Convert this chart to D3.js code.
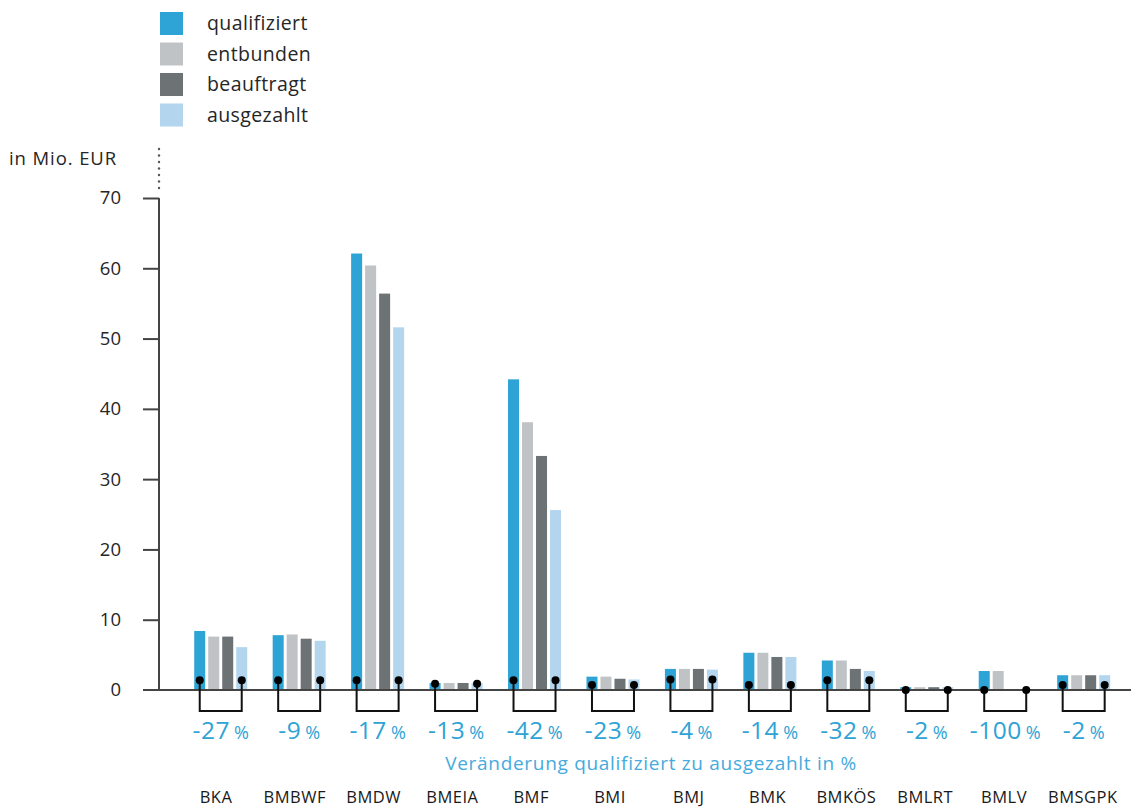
<!DOCTYPE html>
<html>
<head>
<meta charset="utf-8">
<script src="https://cdn.jsdelivr.net/npm/d3@7"></script>
<style>
  html, body { margin: 0; padding: 0; background: #fff; }
  svg { display: block; font-family: "Open Sans", "Segoe UI", sans-serif; }
</style>
</head>
<body>
<svg id="chart" width="1131" height="807"></svg>
<script>
const categories = ["BKA","BMBWF","BMDW","BMEIA","BMF","BMI","BMJ","BMK","BMKÖS","BMLRT","BMLV","BMSGPK"];
const seriesNames = ["qualifiziert","entbunden","beauftragt","ausgezahlt"];
const seriesColors = ["#2ea3d5","#c0c3c6","#6d7275","#b3d6ee"];
const qualifiziert = [8.4, 7.8, 62.1, 1.0, 44.2, 1.9, 3.0, 5.3, 4.2, 0.4, 2.7, 2.1];
const entbunden    = [7.6, 7.9, 60.4, 1.0, 38.1, 1.9, 3.0, 5.3, 4.2, 0.4, 2.7, 2.1];
const beauftragt   = [7.6, 7.3, 56.4, 1.0, 33.3, 1.6, 3.0, 4.7, 3.0, 0.4, 0.0, 2.1];
const ausgezahlt   = [6.1, 7.0, 51.6, 1.0, 25.6, 1.5, 2.9, 4.7, 2.7, 0.4, 0.0, 2.1];
const changeLabels = ["-27","-9","-17","-13","-42","-23","-4","-14","-32","-2","-100","-2"];
const dotLevels    = [1.4, 1.4, 1.4, 0.9, 1.4, 0.7, 1.5, 0.7, 1.4, 0.0, 0.0, 0.7];
const yTicks = [0,10,20,30,40,50,60,70];

const seriesValues = [qualifiziert, entbunden, beauftragt, ausgezahlt];
const svg = d3.select("#chart");

const y = d3.scaleLinear().domain([0, 70]).range([690, 198]);
const x0 = d3.scaleBand().domain(categories).range([181.5, 1122.9]).padding(0);
const xl = d3.scaleBand().domain(categories).range([176.6, 1122.2]).padding(0);
const x1 = d3.scaleBand().domain(seriesNames).range([-26.5, 26.5]).paddingInner(0.214);
const gc = c => x0(c) + x0.bandwidth() / 2;

// Legend
const legend = svg.append("g");
seriesNames.forEach((s, i) => {
  const ly = 12 + i * 30.5;
  legend.append("rect").attr("x", 160).attr("y", ly).attr("width", 23).attr("height", 23).attr("fill", seriesColors[i]);
  legend.append("text").attr("x", 207).attr("y", ly + 18).attr("font-size", 19.5)
    .attr("letter-spacing", 0.4).attr("fill", "#262626").text(s);
});

// Unit label
svg.append("text").attr("x", 9).attr("y", 165).attr("font-size", 18.5).attr("letter-spacing", 0.9)
  .attr("fill", "#262626").text("in Mio. EUR");
// dotted extension
[149, 155.5, 162, 168.5, 175, 181.5, 188].forEach(dy => {
  svg.append("circle").attr("cx", 159).attr("cy", dy).attr("r", 1.2).attr("fill", "#555");
});

// Y axis
const yAxis = d3.axisLeft(y).tickValues(yTicks).tickSize(16).tickPadding(22).tickFormat(d3.format("d"));
const yg = svg.append("g").attr("transform", "translate(159,0)").call(yAxis);
yg.select(".domain").attr("stroke", "#444").attr("stroke-width", 2).attr("d", "M0,198V690");
yg.selectAll(".tick line").attr("stroke", "#444").attr("stroke-width", 2);
yg.selectAll(".tick text").attr("font-size", 18.5).attr("fill", "#262626").attr("font-family", "Open Sans, sans-serif");
yg.selectAll(".tick").filter(d => d === 0).select("line").remove();

// Bars
categories.forEach((c, ci) => {
  seriesNames.forEach((s, si) => {
    const v = seriesValues[si][ci];
    if (v <= 0) return;
    svg.append("rect")
      .attr("x", gc(c) + x1(s))
      .attr("y", y(v))
      .attr("width", x1.bandwidth())
      .attr("height", y(0) - y(v))
      .attr("fill", seriesColors[si]);
  });
});

// Baseline
svg.append("line").attr("x1", 143).attr("x2", 1131).attr("y1", y(0)).attr("y2", y(0))
  .attr("stroke", "#444").attr("stroke-width", 2);

// Brackets
const bottomY = 711;
categories.forEach((c, ci) => {
  const xa = gc(c) + x1("qualifiziert") + x1.bandwidth() / 2;
  const xb = gc(c) + x1("ausgezahlt") + x1.bandwidth() / 2;
  const dy = y(dotLevels[ci]);
  svg.append("path")
    .attr("d", `M${xa},${dy}V${bottomY}H${xb}V${dy}`)
    .attr("fill", "none").attr("stroke", "#111").attr("stroke-width", 2);
  svg.append("circle").attr("cx", xa).attr("cy", dy).attr("r", 4).attr("fill", "#000");
  svg.append("circle").attr("cx", xb).attr("cy", dy).attr("r", 4).attr("fill", "#000");
  const t = svg.append("text").attr("x", gc(c)).attr("y", 739).attr("text-anchor", "middle")
    .attr("fill", "#2ea3d5");
  t.append("tspan").attr("font-size", 24.5).attr("letter-spacing", 0.5).text(changeLabels[ci]);
  t.append("tspan").attr("font-size", 18).attr("dx", 4).text("%");
});

// Subtitle
svg.append("text").attr("x", 651).attr("y", 770).attr("text-anchor", "middle")
  .attr("font-size", 19).attr("letter-spacing", 0.7).attr("fill", "#45aadd")
  .text("Veränderung qualifiziert zu ausgezahlt in %");

// Category labels
categories.forEach(c => {
  svg.append("text").attr("x", xl(c) + xl.bandwidth() / 2).attr("y", 803).attr("text-anchor", "middle")
    .attr("font-size", 16.5).attr("letter-spacing", 0.5).attr("fill", "#1a1a1a").text(c);
});
</script>
</body>
</html>
